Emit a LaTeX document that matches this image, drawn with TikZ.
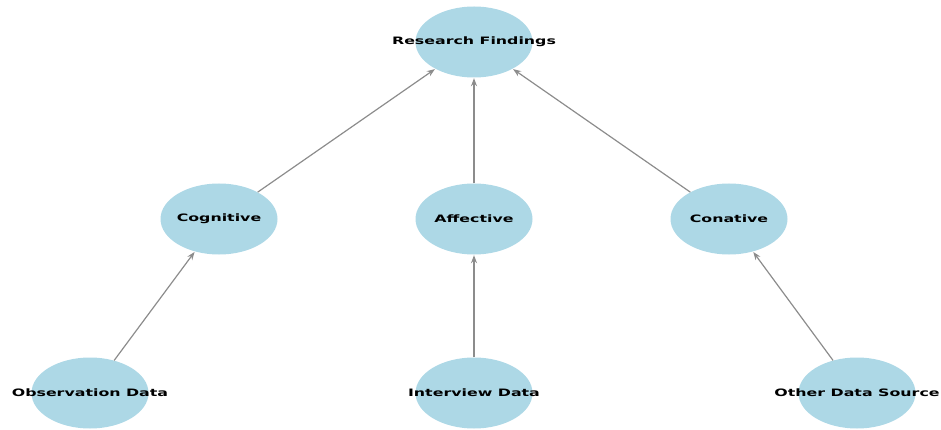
\documentclass[tikz,border=0pt]{standalone}
\usepackage{fontspec}
\usepackage{graphicx}
\newfontfamily\lblfont{DejaVu Sans}
\usetikzlibrary{shapes.geometric,arrows.meta}
\definecolor{nodeblue}{HTML}{ADD8E6}
\definecolor{edgegray}{HTML}{8C8C8C}
\newcommand{\lbltext}[1]{\makebox[0pt]{\scalebox{1.55}[1]{#1}}}
\tikzset{
  blob/.style={ellipse, fill=nodeblue, draw=none, minimum width=117pt, minimum height=71pt, inner sep=0pt,
    font=\lblfont\bfseries\fontsize{10.2}{12}\selectfont, text=black},
  link/.style={draw=edgegray, line width=1.2pt, -{Stealth[length=8pt,width=6pt]}, shorten >=0.5pt}
}
\begin{document}
\begin{tikzpicture}[x=1pt,y=-1pt]
\useasboundingbox (0,0) rectangle (941,430);
\node[blob] (rf) at (474,42) {\lbltext{Research Findings}};
\node[blob] (cog) at (219,219) {\lbltext{Cognitive}};
\node[blob] (aff) at (474,219) {\lbltext{Affective}};
\node[blob] (con) at (729,219) {\lbltext{Conative}};
\node[blob] (obs) at (90,393) {\lbltext{Observation Data}};
\node[blob] (int) at (474,393) {\lbltext{Interview Data}};
\node[blob] (oth) at (857,393) {\lbltext{Other Data Source}};
\draw[link] (cog) -- (rf);
\draw[link] (aff) -- (rf);
\draw[link] (con) -- (rf);
\draw[link] (obs) -- (cog);
\draw[link] (int) -- (aff);
\draw[link] (oth) -- (con);
\end{tikzpicture}
\end{document}
